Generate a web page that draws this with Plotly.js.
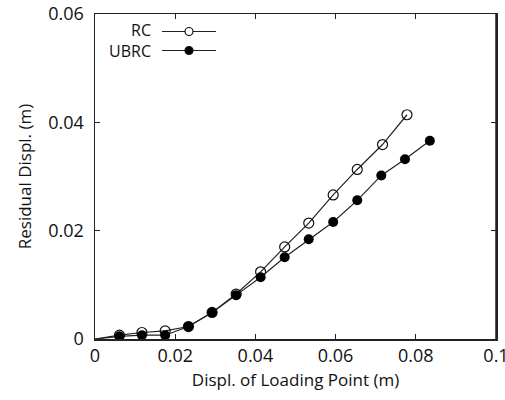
<!DOCTYPE html>
<html><head><meta charset="utf-8">
<script src="https://cdn.plot.ly/plotly-3.0.1.min.js"></script>
<style>html,body{margin:0;padding:0;background:#fff;overflow:hidden}#c{width:505px;height:400px}</style>
</head><body><div id="c"></div>
<script>
const seriesNames = ["RC", "UBRC"];
const rcX = [0, 0.0061, 0.0117, 0.0175, 0.0233, 0.0292, 0.0352, 0.0413, 0.0473, 0.0533, 0.0594, 0.0654, 0.0717, 0.0778];
const rcY = [0, 0.0007, 0.0012, 0.0015, 0.0023, 0.0049, 0.0083, 0.0124, 0.0170, 0.0214, 0.0266, 0.0313, 0.0359, 0.0414];
const ubrcX = [0, 0.0061, 0.0117, 0.0175, 0.0233, 0.0292, 0.0352, 0.0413, 0.0473, 0.0533, 0.0594, 0.0654, 0.0714, 0.0773, 0.0835];
const ubrcY = [0, 0.0005, 0.0007, 0.0007, 0.0023, 0.0049, 0.0081, 0.0114, 0.0151, 0.0184, 0.0216, 0.0256, 0.0302, 0.0332, 0.0366];
const xTicks = [0, 0.02, 0.04, 0.06, 0.08, 0.1];
const xTickText = ["0", "0.02", "0.04", "0.06", "0.08", "0.1"];
const yTicks = [0, 0.02, 0.04, 0.06];
const yTickText = ["0", "0.02", "0.04", "0.06"];
const xTitle = "Displ. of Loading Point (m)";
const yTitle = "Residual Displ. (m)";

const FONT = "Open Sans, DejaVu Sans, sans-serif";
const sizes = arr => arr.map((v, i) => i === 0 ? 0 : 10);

const traces = [
  {x: rcX, y: rcY, name: seriesNames[0], mode: "lines+markers",
   line: {color: "#222", width: 1.2},
   marker: {symbol: "circle-open", size: sizes(rcX), opacity: 1, color: "#111", line: {width: 1.2}}},
  {x: ubrcX, y: ubrcY, name: seriesNames[1], mode: "lines+markers",
   line: {color: "#222", width: 1.2},
   marker: {symbol: "circle", size: sizes(ubrcX), opacity: 1, color: "#000", line: {width: 0}}}
];

const axisCommon = {
  showgrid: false, zeroline: false, showline: true, linecolor: "#222", linewidth: 1.5,
  mirror: "allticks", ticks: "inside", ticklen: 5, tickcolor: "#222", tickwidth: 1,
  ticklabeloverflow: "allow",
  tickfont: {family: FONT, size: 18, color: "#111"}
};

// legend drawn in paper coordinates (symbol to the right of the label)
const W = 401, H = 325;
const px = x => (x - 95) / W, py = y => (339 - y) / H;
const legY = [31.5, 50.5];
const shapes = [];
seriesNames.forEach((n, i) => {
  shapes.push({type: "line", xref: "paper", yref: "paper", x0: px(162), x1: px(216), y0: py(legY[i]), y1: py(legY[i]), line: {color: "#222", width: 1.2}});
  shapes.push({type: "circle", xref: "paper", yref: "paper", xsizemode: "pixel", ysizemode: "pixel",
    xanchor: px(189), yanchor: py(legY[i]), x0: -4, x1: 4, y0: -4, y1: 4,
    fillcolor: i === 0 ? "#fff" : "#000", line: {color: "#111", width: 1.2}});
});
// right frame line
shapes.push({type: "line", xref: "paper", yref: "paper", x0: 1, x1: 1, y0: 0, y1: 1, line: {color: "#222", width: 1.5}});
const annotations = [{xref: "paper", yref: "paper", x: px(153), y: py((legY[0] + legY[1]) / 2),
  xanchor: "right", yanchor: "middle", align: "right", text: seriesNames.join("<br>"), showarrow: false,
  font: {family: FONT, size: 16, color: "#111"}}];

const layout = {
  width: 505, height: 400,
  margin: {l: 95, r: 9, t: 14, b: 61},
  paper_bgcolor: "#fff", plot_bgcolor: "#fff",
  showlegend: false,
  font: {family: FONT, color: "#111"},
  xaxis: Object.assign({}, axisCommon, {range: [0, 0.1], tickvals: xTicks, ticktext: xTickText,
    title: {text: xTitle, font: {family: FONT, size: 17, color: "#111"}, standoff: 8}}),
  yaxis: Object.assign({}, axisCommon, {range: [0, 0.06], tickvals: yTicks, ticktext: yTickText, ticklabelstandoff: 6,
    title: {text: yTitle, font: {family: FONT, size: 17, color: "#111"}, standoff: 12}}),
  shapes: shapes, annotations: annotations
};
Plotly.newPlot("c", traces, layout, {displayModeBar: false, staticPlot: true});
</script></body></html>
